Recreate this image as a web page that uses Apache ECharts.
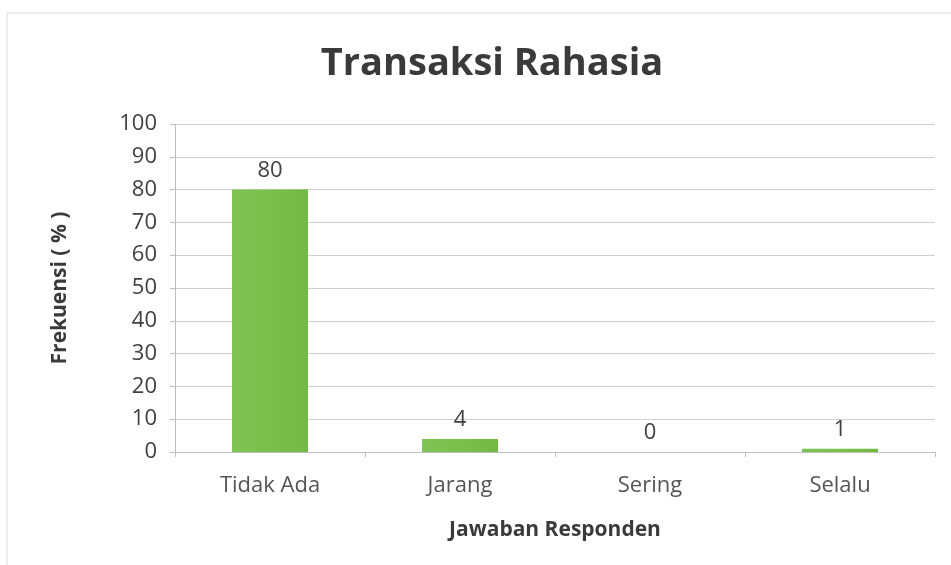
<!DOCTYPE html>
<html>
<head>
<meta charset="utf-8">
<script src="https://cdn.jsdelivr.net/npm/echarts@6/dist/echarts.min.js"></script>
<style>
  html, body { margin: 0; padding: 0; background: #fff; }
  #chart { width: 951px; height: 565px; }
</style>
</head>
<body>
<div id="chart"></div>
<script>
// Survey answers and their share of respondents (%)
const categories = ['Tidak Ada', 'Jarang', 'Sering', 'Selalu'];
const values = [80, 4, 0, 1];
const yTicks = { min: 0, max: 100, interval: 10 };

const font = '"Open Sans", Lato, sans-serif';
const chart = echarts.init(document.getElementById('chart'));

chart.setOption({
  backgroundColor: '#ffffff',
  animation: false,
  title: {
    text: 'Transaksi Rahasia',
    left: 487,
    textAlign: 'center',
    top: 40,
    textStyle: { fontFamily: font, fontSize: 38, fontWeight: 'bold', color: '#3a3a3a' }
  },
  graphic: [{
    type: 'polyline',
    shape: { points: [[7, 565], [7, 13], [951, 13]] },
    style: { stroke: '#d9d9d9', lineWidth: 1, fill: null }
  }],
  grid: { left: 175, right: 16, top: 124, bottom: 113 },
  xAxis: {
    type: 'category',
    data: categories,
    name: 'Jawaban Responden',
    nameLocation: 'middle',
    nameGap: 68,
    nameTextStyle: { fontFamily: font, fontSize: 21, fontWeight: 'bold', color: '#3a3a3a' },
    axisLine: { lineStyle: { color: '#bfbfbf' } },
    axisTick: { show: true, alignWithLabel: false, length: 5, lineStyle: { color: '#bfbfbf' } },
    axisLabel: { fontFamily: font, fontSize: 22, color: '#555555', margin: 23 }
  },
  yAxis: {
    type: 'value',
    min: yTicks.min,
    max: yTicks.max,
    interval: yTicks.interval,
    name: 'Frekuensi ( % )',
    nameLocation: 'middle',
    nameGap: 104,
    nameTextStyle: { fontFamily: font, fontSize: 21, fontWeight: 'bold', color: '#3a3a3a' },
    axisLine: { show: true, lineStyle: { color: '#bfbfbf' } },
    axisTick: { show: true, length: 5, lineStyle: { color: '#bfbfbf' } },
    axisLabel: { fontFamily: font, fontSize: 22, color: '#404040', margin: 18 },
    splitLine: { lineStyle: { color: '#d0d0d0' } }
  },
  series: [{
    type: 'bar',
    data: values,
    barWidth: 76,
    itemStyle: {
      color: new echarts.graphic.LinearGradient(0, 0, 1, 0, [
        { offset: 0, color: '#7ec455' },
        { offset: 0.5, color: '#78c04b' },
        { offset: 1, color: '#72b844' }
      ])
    },
    label: {
      show: true,
      position: 'top',
      distance: 8,
      fontFamily: font,
      fontSize: 22,
      color: '#404040'
    }
  }]
});
</script>
</body>
</html>
